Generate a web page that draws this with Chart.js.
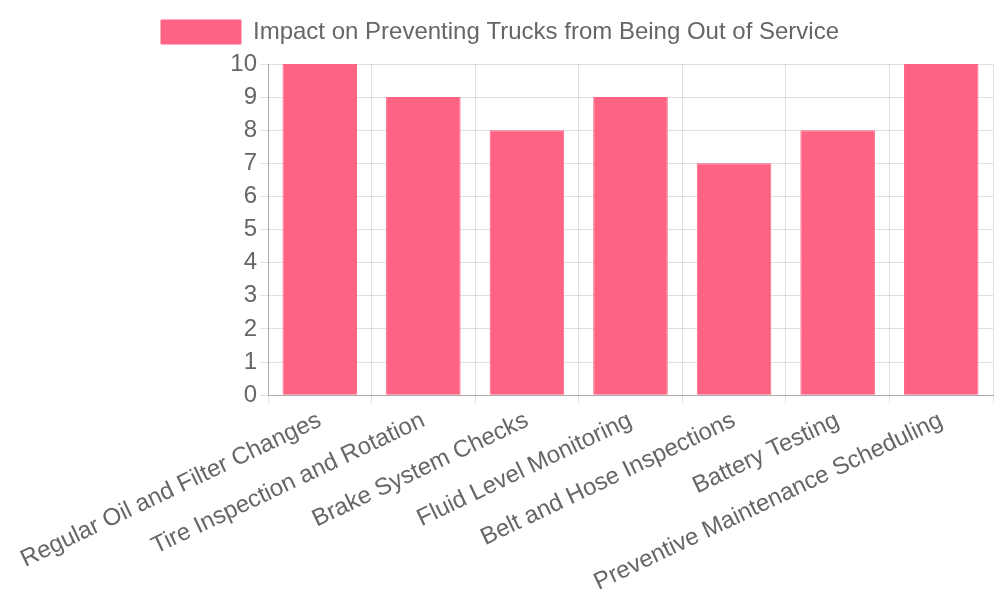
<!DOCTYPE html>
<html>
<head>
<meta charset="utf-8">
<script src="https://cdn.jsdelivr.net/npm/chart.js@4"></script>
<style>
  html, body { margin: 0; padding: 0; background: #fff; }
  #wrap { width: 1000px; height: 600px; }
</style>
</head>
<body>
<div id="wrap"><canvas id="chart"></canvas></div>
<script>
// datos del gráfico
const categories = [
    'Regular Oil and Filter Changes',
    'Tire Inspection and Rotation',
    'Brake System Checks',
    'Fluid Level Monitoring',
    'Belt and Hose Inspections',
    'Battery Testing',
    'Preventive Maintenance Scheduling'
];
const impactValues = [10, 9, 8, 9, 7, 8, 10];
const seriesLabel = 'Impact on Preventing Trucks from Being Out of Service';

Chart.defaults.font.family = "'Liberation Sans', Arial, sans-serif";
Chart.defaults.font.size = 24;
Chart.defaults.color = '#666';

// un poco más de espacio debajo de la leyenda
const legendGap = {
    id: 'legendGap',
    beforeInit(chart) {
        const origFit = chart.legend.fit;
        chart.legend.fit = function () {
            origFit.call(this);
            this.height += 10;
        };
    }
};

new Chart(document.getElementById('chart').getContext('2d'), {
    type: 'bar',
    data: {
        labels: categories,
        datasets: [{
            label: seriesLabel,
            data: impactValues,
            backgroundColor: 'rgb(255, 99, 132)',
            borderColor: 'rgb(255, 99, 132)',
            borderWidth: 1
        }]
    },
    options: {
        responsive: true,
        maintainAspectRatio: false,
        animation: false,
        layout: { padding: { left: 7, right: 7 } },
        plugins: {
            legend: {
                labels: { boxWidth: 80, padding: 20 }
            }
        },
        scales: {
            x: {
                ticks: { minRotation: 25.5, maxRotation: 25.5 },
                grid: { color: 'rgba(0,0,0,0.12)' },
                border: { color: '#aaa' }
            },
            y: {
                beginAtZero: true,
                max: 10,
                ticks: { stepSize: 1 },
                grid: { color: 'rgba(0,0,0,0.12)' },
                border: { color: '#aaa' },
                afterFit(scale) { scale.width = 261; }
            }
        }
    },
    plugins: [legendGap]
});
</script>
</body>
</html>
